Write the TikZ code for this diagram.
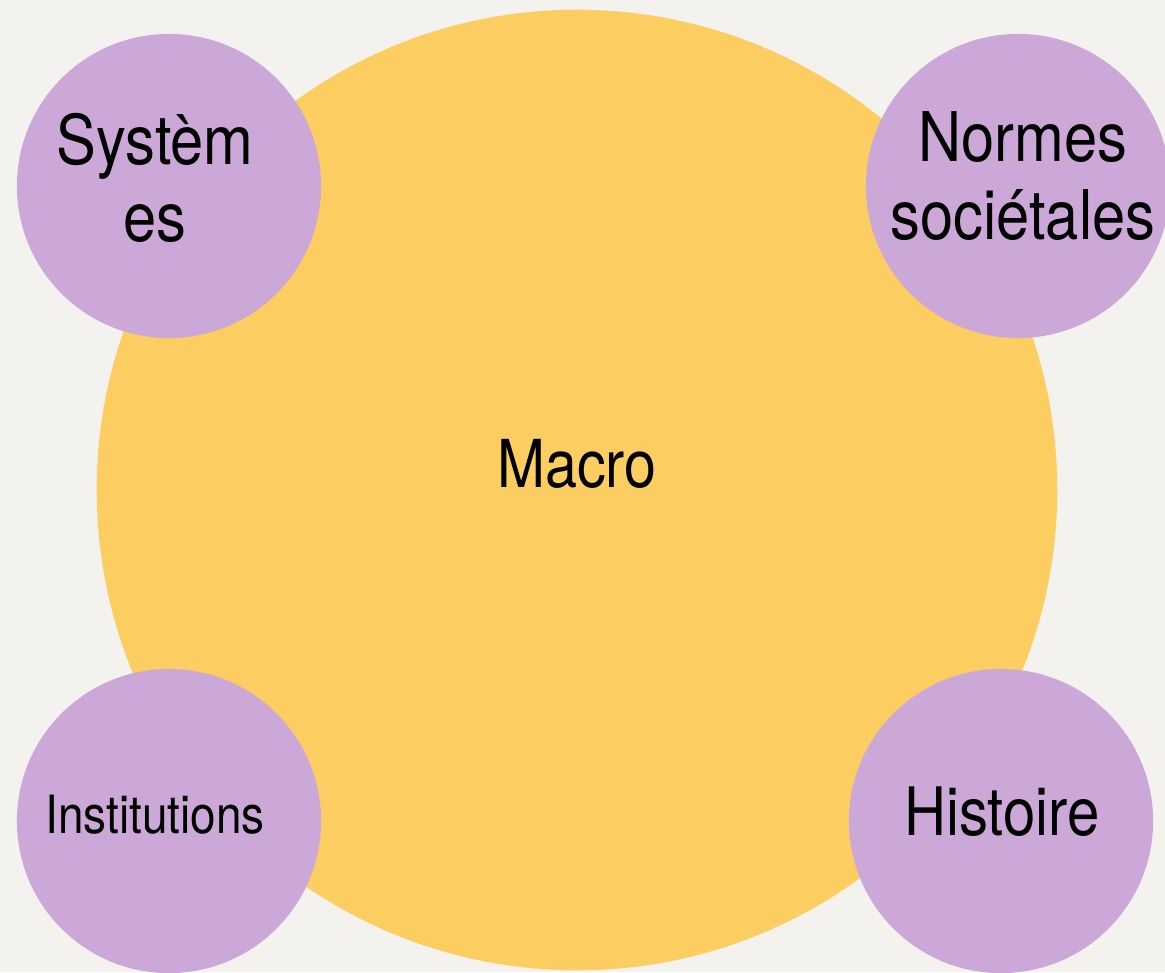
\documentclass[tikz,border=0pt]{standalone}
\usepackage{fontspec}
\setmainfont[FakeStretch=0.87]{TeX Gyre Heros}
\usepackage{xcolor}
\definecolor{fond}{HTML}{F3F2EE}
\definecolor{jaune}{HTML}{FCCE62}
\definecolor{mauve}{HTML}{CBA8D7}

\begin{document}
\begin{tikzpicture}[x=.01cm, y=-.01cm,
  macro/.style={circle, fill=jaune, minimum size=9.6cm, inner sep=0},
  facteur/.style={circle, fill=mauve, minimum size=3.04cm, inner sep=0},
  txt/.style={align=center, font=\fontsize{19.5}{22}\selectfont}]
\fill[fond] (0,0) rectangle (1165,972);
\useasboundingbox (0,0) rectangle (1165,972);
\node[macro] (macro) at (577,490) {};
\node[facteur] (sys) at (169,186) {};
\node[facteur] (norm) at (1018,186) {};
\node[facteur] (inst) at (169,821) {};
\node[facteur] (hist) at (1001,821) {};
\node[txt, font=\fontsize{18.8}{20}\selectfont] (tmacro) at (577,464) {Macro};
\node[txt] (tsys) at (155,178) {Systèm\\es};
\node[txt] (tnorm) at (1023,176) {Normes\\sociétales};
\node[txt, font=\fontsize{15}{17}\selectfont] (tinst) at (155,815) {Institutions};
\node[txt, font=\fontsize{19}{22}\selectfont] (thist) at (1002,812) {Histoire};
\end{tikzpicture}
\end{document}
